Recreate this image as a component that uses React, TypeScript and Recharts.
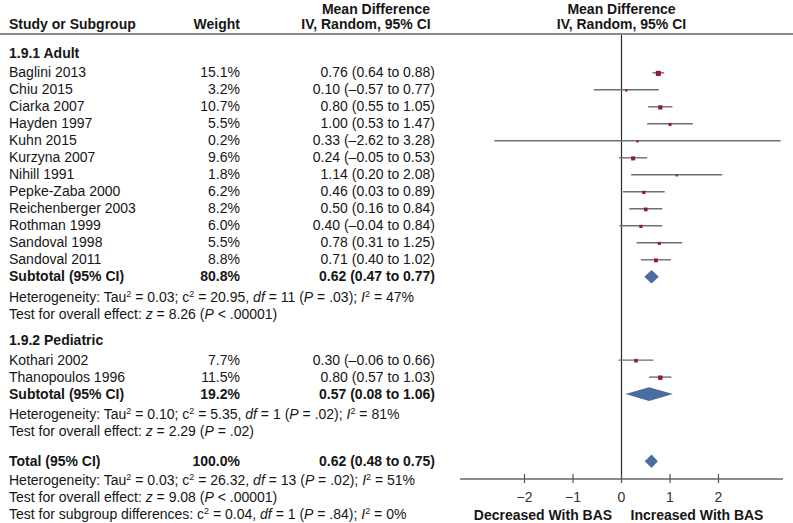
import React from "react";
import { ComposedChart, Scatter, XAxis, YAxis, ErrorBar, ReferenceLine } from "recharts";

// ---- data ----
const adultStudies = [
  "Baglini 2013",
  "Chiu 2015",
  "Ciarka 2007",
  "Hayden 1997",
  "Kuhn 2015",
  "Kurzyna 2007",
  "Nihill 1991",
  "Pepke-Zaba 2000",
  "Reichenberger 2003",
  "Rothman 1999",
  "Sandoval 1998",
  "Sandoval 2011",
];
const adultWeights = [15.1, 3.2, 10.7, 5.5, 0.2, 9.6, 1.8, 6.2, 8.2, 6.0, 5.5, 8.8];
const adultMd = [0.76, 0.1, 0.8, 1.0, 0.33, 0.24, 1.14, 0.46, 0.5, 0.4, 0.78, 0.71];
const adultLo = [0.64, -0.57, 0.55, 0.53, -2.62, -0.05, 0.2, 0.03, 0.16, -0.04, 0.31, 0.4];
const adultHi = [0.88, 0.77, 1.05, 1.47, 3.28, 0.53, 2.08, 0.89, 0.84, 0.84, 1.25, 1.02];

const pediatricStudies = ["Kothari 2002", "Thanopoulos 1996"];
const pediatricWeights = [7.7, 11.5];
const pediatricMd = [0.3, 0.8];
const pediatricLo = [-0.06, 0.57];
const pediatricHi = [0.66, 1.03];

const pooledLabels = ["Subtotal (95% CI)", "Subtotal (95% CI)", "Total (95% CI)"];
const pooledWeights = [80.8, 19.2, 100.0];
const pooledMd = [0.62, 0.57, 0.62];
const pooledLo = [0.47, 0.08, 0.48];
const pooledHi = [0.77, 1.06, 0.75];

const xTicks = [-2, -1, 0, 1, 2];

// ---- layout ----
const W = 793;
const H = 523;
const FONT = "'Liberation Sans', Arial, Helvetica, sans-serif";
const FS = 14;
const ROW0 = 72.8; // px of first study row
const ROW_H = 17; // px per row
const PLOT_TOP = 34;
const PLOT_BOTTOM = 479;
const Y_MIN = (PLOT_TOP - ROW0) / ROW_H;
const Y_MAX = (PLOT_BOTTOM - ROW0) / ROW_H;
const PED_START = 16.9;
const pooledLines = [12, 18.9, 22.85];
const DIAMOND_HALF = 0.4;

const rowPx = (line: number) => ROW0 + line * ROW_H;
const fmt = (v: number) => v.toFixed(2).replace("-", "\u2013");
const ci = (m: number, l: number, h: number) => `${fmt(m)} (${fmt(l)} to ${fmt(h)})`;

type Row = { name: string; w: number; md: number; lo: number; hi: number; line: number };

const adultRows: Row[] = adultStudies.map((name, i) => ({
  name,
  w: adultWeights[i],
  md: adultMd[i],
  lo: adultLo[i],
  hi: adultHi[i],
  line: i,
}));
const pediatricRows: Row[] = pediatricStudies.map((name, i) => ({
  name,
  w: pediatricWeights[i],
  md: pediatricMd[i],
  lo: pediatricLo[i],
  hi: pediatricHi[i],
  line: PED_START + i,
}));
const pooledRows: Row[] = pooledLabels.map((name, i) => ({
  name,
  w: pooledWeights[i],
  md: pooledMd[i],
  lo: pooledLo[i],
  hi: pooledHi[i],
  line: pooledLines[i],
}));

const studyPoints = [...adultRows, ...pediatricRows].map((r) => ({
  x: r.md,
  y: r.line,
  w: r.w,
  err: [r.md - r.lo, r.hi - r.md],
}));

const diamonds = pooledRows.map((r) => [
  { x: r.lo, y: r.line },
  { x: r.md, y: r.line - DIAMOND_HALF },
  { x: r.hi, y: r.line },
  { x: r.md, y: r.line + DIAMOND_HALF },
]);

const Square = (props: any) => {
  const { cx, cy, payload } = props;
  const s = Math.max(2.2, 1.3 * Math.sqrt(payload.w));
  return <rect x={cx - s / 2} y={cy - s / 2 + 0.6} width={s} height={s} fill="#8a1a44" />;
};

const Diamond = (props: any) => {
  const pts = (props.points || []).map((p: any) => `${p.x},${p.y}`).join(" ");
  return <polygon points={pts} fill="#4b6c9e" />;
};

const AxisTick = (props: any) => {
  const { x, y, payload } = props;
  const v = payload.value;
  const label = v < 0 ? `\u2212${Math.abs(v)}` : `${v}`;
  return (
    <g>
      <line x1={x} x2={x} y1={y - 5} y2={y + 4} stroke="#555" strokeWidth={1.2} />
      <text x={x} y={y + 18} textAnchor="middle" dominantBaseline="central" fontSize={FS} fontFamily={FONT} fill="#333">
        {label}
      </text>
    </g>
  );
};

function T({
  x,
  y,
  children,
  align = "left",
  bold = false,
}: {
  x: number;
  y: number;
  children: React.ReactNode;
  align?: "left" | "right" | "center";
  bold?: boolean;
}) {
  const box = 480;
  const left = align === "left" ? x : align === "right" ? x - box : x - box / 2;
  return (
    <div
      style={{
        position: "absolute",
        left,
        top: y - 8.5,
        width: box,
        height: 17,
        lineHeight: "17px",
        fontSize: FS,
        fontWeight: bold ? 700 : 400,
        textAlign: align,
        whiteSpace: "nowrap",
        color: "#161616",
      }}
    >
      {children}
    </div>
  );
}

const sup = (s: string) => <sup style={{ fontSize: 9, lineHeight: 0, verticalAlign: "5px" }}>{s}</sup>;

function Het({ tau, chi, df, p, i2 }: { tau: string; chi: string; df: string; p: string; i2: string }) {
  return (
    <>
      Heterogeneity: Tau{sup("2")} = {tau}; c{sup("2")} = {chi}, <i>df</i> = {df} (<i>P</i> = {p}); <i>I</i>
      {sup("2")} = {i2}
    </>
  );
}

const NAME_X = 9;
const WEIGHT_X = 240;
const MD_X = 435;

function TableRow({ r, bold = false }: { r: Row; bold?: boolean }) {
  const y = rowPx(r.line);
  return (
    <>
      <T x={NAME_X} y={y} bold={bold}>
        {r.name}
      </T>
      <T x={WEIGHT_X} y={y} align="right" bold={bold}>
        {r.w.toFixed(1)}%
      </T>
      <T x={MD_X} y={y} align="right" bold={bold}>
        {ci(r.md, r.lo, r.hi)}
      </T>
    </>
  );
}

export default function App() {
  return (
    <div
      style={{
        position: "absolute",
        left: 0,
        top: 0,
        width: W,
        height: H,
        background: "#fff",
        fontFamily: FONT,
        overflow: "hidden",
      }}
    >
      <div style={{ position: "absolute", left: 0, top: 0 }}>
        <ComposedChart width={W} height={H} margin={{ top: PLOT_TOP, right: 10, bottom: 14, left: 460 }}>
          <XAxis
            type="number"
            dataKey="x"
            domain={[-3.33, 3.33]}
            allowDataOverflow
            ticks={xTicks}
            interval={0}
            height={30}
            axisLine={{ stroke: "#666", strokeWidth: 1.3 }}
            tickLine={false}
            tickSize={0}
            tickMargin={0}
            tick={<AxisTick />}
          />
          <YAxis type="number" dataKey="y" hide reversed domain={[Y_MIN, Y_MAX]} allowDataOverflow />
          <ReferenceLine x={0} stroke="#2a2a2a" strokeWidth={1.2} />
          <Scatter data={studyPoints} shape={Square} isAnimationActive={false}>
            <ErrorBar dataKey="err" direction="x" width={0} stroke="#6e6e6e" strokeWidth={1.4} isAnimationActive={false} />
          </Scatter>
          {diamonds.map((d, i) => (
            <Scatter key={i} data={d} shape={() => <g />} line={Diamond} isAnimationActive={false} />
          ))}
        </ComposedChart>
      </div>

      {/* header rule */}
      <div style={{ position: "absolute", left: 0, top: 33, width: W, height: 1.5, background: "#8a8a8a" }} />

      <T x={NAME_X} y={24} bold>
        Study or Subgroup
      </T>
      <T x={WEIGHT_X} y={24} align="right" bold>
        Weight
      </T>
      <T x={376} y={9} align="center" bold>
        Mean Difference
      </T>
      <T x={366} y={24} align="center" bold>
        IV, Random, 95% CI
      </T>
      <T x={621.5} y={9} align="center" bold>
        Mean Difference
      </T>
      <T x={621.5} y={24} align="center" bold>
        IV, Random, 95% CI
      </T>

      <T x={NAME_X} y={53.3} bold>
        1.9.1 Adult
      </T>
      {adultRows.map((r) => (
        <TableRow key={r.name} r={r} />
      ))}
      <TableRow r={pooledRows[0]} bold />
      <T x={NAME_X} y={297}>
        <Het tau="0.03" chi="20.95" df="11" p=".03" i2="47%" />
      </T>
      <T x={NAME_X} y={314}>
        Test for overall effect: <i>z</i> = 8.26 (<i>P</i> &lt; .00001)
      </T>

      <T x={NAME_X} y={340.5} bold>
        1.9.2 Pediatric
      </T>
      {pediatricRows.map((r) => (
        <TableRow key={r.name} r={r} />
      ))}
      <TableRow r={pooledRows[1]} bold />
      <T x={NAME_X} y={414}>
        <Het tau="0.10" chi="5.35" df="1" p=".02" i2="81%" />
      </T>
      <T x={NAME_X} y={431}>
        Test for overall effect: <i>z</i> = 2.29 (<i>P</i> = .02)
      </T>

      <TableRow r={pooledRows[2]} bold />
      <T x={NAME_X} y={480}>
        <Het tau="0.03" chi="26.32" df="13" p=".02" i2="51%" />
      </T>
      <T x={NAME_X} y={497}>
        Test for overall effect: <i>z</i> = 9.08 (<i>P</i> &lt; .00001)
      </T>
      <T x={NAME_X} y={514}>
        Test for subgroup differences: c{sup("2")} = 0.04, <i>df</i> = 1 (<i>P</i> = .84); <i>I</i>
        {sup("2")} = 0%
      </T>

      <T x={543} y={515} align="center" bold>
        Decreased With BAS
      </T>
      <T x={697} y={515} align="center" bold>
        Increased With BAS
      </T>
    </div>
  );
}
